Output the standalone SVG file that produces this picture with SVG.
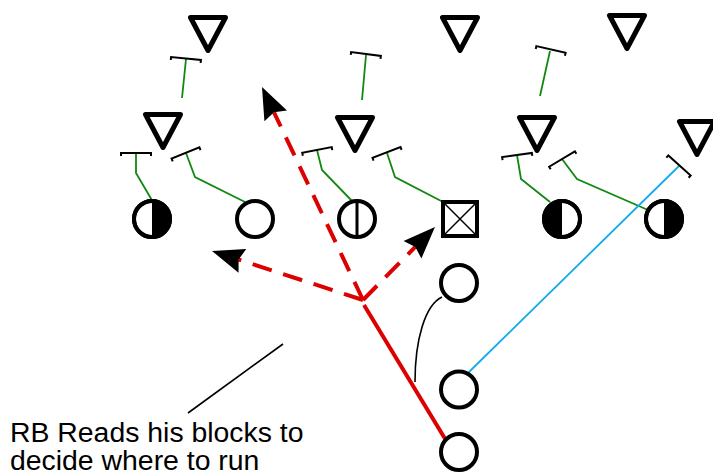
<svg xmlns="http://www.w3.org/2000/svg" width="713" height="472" viewBox="0 0 713 472">
<style>
.def{fill:none;stroke:#000;stroke-width:5;stroke-linejoin:round}
.off{fill:#fff;stroke:#000;stroke-width:4}
.half{fill:#000;stroke:none}
.bar{fill:none;stroke:#000;stroke-width:2}
.blk{fill:none;stroke:#118811;stroke-width:1.8}
.blue{fill:none;stroke:#11aaee;stroke-width:1.8}
.run{fill:none;stroke:#dd0000;stroke-width:4}
.dash{fill:none;stroke:#dd0000;stroke-width:4;stroke-dasharray:20 12}
.thin{fill:none;stroke:#000;stroke-width:1.6}
.lbl{font-family:"Liberation Sans",Arial,Helvetica,sans-serif;font-size:28.4px;fill:#000}
</style>
<defs>
<path id="tri" d="M-17.5,0 L17.5,0 L0,33 Z"/>
<path id="tbar" d="M-15,3 L-15,0 L15,0 L15,3"/>
<marker id="ah" markerUnits="userSpaceOnUse" markerWidth="40" markerHeight="30" refX="0" refY="0" viewBox="-6 -15 40 30" orient="auto" overflow="visible">
<path d="M28,0 L-4,-12.5 L0,0 L-4,12.5 Z" fill="#000"/>
</marker>
</defs>

<g id="defenders">
<g id="d1"><use href="#tri" class="def" transform="translate(208,17.5)"/></g>
<g id="d2"><use href="#tri" class="def" transform="translate(460,17.5)"/></g>
<g id="d3"><use href="#tri" class="def" transform="translate(627,15.5)"/></g>
<g id="d4"><use href="#tri" class="def" transform="translate(163,114.5)"/></g>
<g id="d5"><use href="#tri" class="def" transform="translate(355,117.5)"/></g>
<g id="d6"><use href="#tri" class="def" transform="translate(537,117.5)"/></g>
<g id="d7"><use href="#tri" class="def" transform="translate(697,121.5)"/></g>
</g>

<g id="connectors">
<path class="blk" d="M186,59 L182,98"/>
<use href="#tbar" class="bar" transform="translate(186,58.5) rotate(5.7)"/>
<path class="blk" d="M366,55 L362,100"/>
<use href="#tbar" class="bar" transform="translate(366,54) rotate(7.6)"/>
<path class="blk" d="M550,51 L540,96"/>
<use href="#tbar" class="bar" transform="translate(551,49.5) rotate(13)"/>

<path class="blk" d="M136,153 L136,173 L153,202"/>
<use href="#tbar" class="bar" transform="translate(136,153)"/>
<path class="blk" d="M186,153 L195,177 L247,203"/>
<use href="#tbar" class="bar" transform="translate(185.5,153) rotate(-22)"/>
<path class="blk" d="M317,150 L322,170 L353,202"/>
<use href="#tbar" class="bar" transform="translate(317,150) rotate(-11)"/>
<path class="blk" d="M387,153 L395,177 L445,203"/>
<use href="#tbar" class="bar" transform="translate(386.5,152.5) rotate(-21)"/>
<path class="blk" d="M517,155 L521,179 L550,202"/>
<use href="#tbar" class="bar" transform="translate(517,155) rotate(-8)"/>
<path class="blk" d="M562,159 L577,179 L648,210"/>
<use href="#tbar" class="bar" transform="translate(562,159) rotate(-31)"/>
<path class="blue" d="M679,166 L468,373"/>
<use href="#tbar" class="bar" transform="translate(679.5,165.5) rotate(42)"/>

<path class="thin" d="M442,297 C425,305 415,340 415,382"/>
<path class="run" d="M447,442 L364,305"/>
<path class="dash" d="M363,300 L274,112.3" marker-end="url(#ah)"/>
<path class="dash" d="M363,300 L238.6,259.6" marker-end="url(#ah)"/>
<path class="dash" d="M363,300 L415.3,246.9" marker-end="url(#ah)"/>
<path class="thin" d="M283,344 L188,413"/>
</g>

<g id="offense">
<g id="o1"><circle class="off" cx="152" cy="219" r="18"/><path class="half" d="M152,201 A18,18 0 0 1 152,237 Z"/><circle cx="152" cy="219" r="18" fill="none" stroke="#000" stroke-width="4"/></g>
<g id="o2"><circle class="off" cx="255" cy="219" r="18"/></g>
<g id="o3"><circle class="off" cx="357" cy="219" r="18"/><path d="M357,201 L357,237" stroke="#000" stroke-width="3"/></g>
<g id="center"><rect class="off" x="443" y="202" width="34" height="34"/><path d="M443,202 L477,236 M477,202 L443,236" stroke="#000" stroke-width="1.5"/></g>
<g id="o5"><circle class="off" cx="562" cy="219" r="18"/><path class="half" d="M562,201 A18,18 0 0 0 562,237 Z"/><circle cx="562" cy="219" r="18" fill="none" stroke="#000" stroke-width="4"/></g>
<g id="o6"><circle class="off" cx="664" cy="219" r="18"/><path class="half" d="M664,201 A18,18 0 0 1 664,237 Z"/><circle cx="664" cy="219" r="18" fill="none" stroke="#000" stroke-width="4"/></g>
<g id="qb"><circle class="off" cx="459" cy="283" r="18"/></g>
<g id="fb"><circle class="off" cx="459" cy="389.5" r="18"/></g>
<g id="rb"><circle class="off" cx="459" cy="452" r="18"/></g>
</g>

<g id="note">
<text class="lbl" x="10" y="442">RB Reads his blocks to</text>
<text class="lbl" x="10" y="470">decide where to run</text>
</g>
</svg>
